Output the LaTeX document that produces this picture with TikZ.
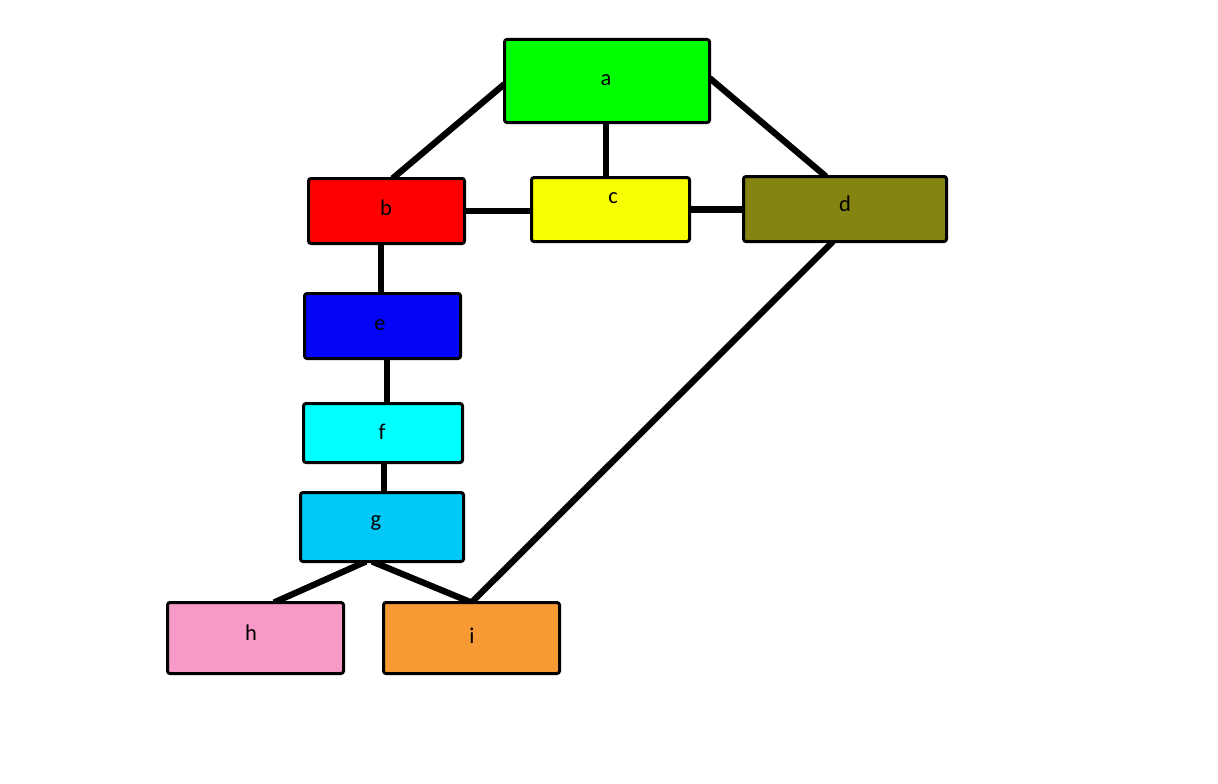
\documentclass[tikz,border=0pt]{standalone}
\usepackage{fontspec}
\setmainfont{Carlito}
\usetikzlibrary{calc,backgrounds}
\definecolor{cA}{HTML}{00FF00}
\definecolor{cB}{HTML}{FF0000}
\definecolor{cC}{HTML}{F8FF00}
\definecolor{cD}{HTML}{848410}
\definecolor{cE}{HTML}{0404F6}
\definecolor{cF}{HTML}{00FFFF}
\definecolor{cG}{HTML}{00C8F8}
\definecolor{cH}{HTML}{F89AC8}
\definecolor{cI}{HTML}{F89A33}
\tikzset{
  box/.style={draw=black, line width=3pt, rounded corners=2.5pt, outer sep=0pt, inner sep=0pt},
  lbl/.style={anchor=base, inner sep=0pt, font=\fontsize{22.5}{27}\selectfont},
  conn/.style={draw=black, line width=6.3pt}
}
\begin{document}
\begin{tikzpicture}[x=1pt,y=-1pt]
\useasboundingbox (0,0) rectangle (1218,784);
% boxes
\node[box, fill=cA, minimum width=205pt, minimum height=83pt] (a) at (607,81) {};
\node[box, fill=cB, minimum width=156pt, minimum height=65pt] (b) at (386.5,211) {};
\node[box, fill=cC, minimum width=158pt, minimum height=64pt] (c) at (610.5,209.5) {};
\node[box, fill=cD, minimum width=203pt, minimum height=65pt] (d) at (845,209) {};
\node[box, fill=cE, minimum width=156pt, minimum height=65pt] (e) at (382.5,326) {};
\node[box, fill=cF, minimum width=159pt, minimum height=59pt] (f) at (383,433) {};
\node[box, fill=cG, minimum width=163pt, minimum height=69pt] (g) at (382,527) {};
\node[box, fill=cH, minimum width=176pt, minimum height=71pt] (h) at (255.5,638) {};
\node[box, fill=cI, minimum width=176pt, minimum height=71pt] (i) at (471.5,638) {};
% labels
\node[lbl] (at) at (606,85) {a};
\node[lbl] (bt) at (386,215) {b};
\node[lbl] (ct) at (613,203) {c};
\node[lbl] (dt) at (845,211) {d};
\node[lbl] (et) at (380,330) {e};
\node[lbl] (ft) at (382,439) {f};
\node[lbl] (gt) at (376,526) {g};
\node[lbl] (ht) at (251,640) {h};
\node[lbl] (it) at (472,643) {i};
% connector ends
\coordinate (ab1) at ($(a.west)+(0,3)$);
\coordinate (ab2) at ($(b.north)+(6,0)$);
\coordinate (ac1) at ($(a.south)+(-1,0)$);
\coordinate (ad1) at ($(a.east)+(0,-3)$);
\coordinate (ad2) at ($(d.north)+(-19,0)$);
\coordinate (be1) at ($(b.south)+(-5.5,0)$);
\coordinate (ef1) at ($(e.south)+(4.5,0)$);
\coordinate (fg1) at ($(f.south)+(1,0)$);
\coordinate (gh1) at ($(g.south)+(-16,0)$);
\coordinate (gh2) at ($(h.north)+(18.5,0)$);
\coordinate (gi1) at ($(g.south)+(-10,0)$);
\coordinate (di1) at ($(d.south)+(-12,0)$);
% connectors
\begin{scope}[on background layer]
\draw[conn] (ab1) -- (ab2);
\draw[conn] (ac1) -- (ac1 |- c.north);
\draw[conn] (ad1) -- (ad2);
\draw[conn] (b.east) -- (b.east -| c.west);
\draw[conn] (c.east) -- (c.east -| d.west);
\draw[conn] (be1) -- (be1 |- e.north);
\draw[conn] (ef1) -- (ef1 |- f.north);
\draw[conn] (fg1) -- (fg1 |- g.north);
\draw[conn] (gh1) -- (gh2);
\draw[conn] (gi1) -- (i.north);
\draw[conn] (di1) -- (i.north);
\end{scope}
\end{tikzpicture}
\end{document}
